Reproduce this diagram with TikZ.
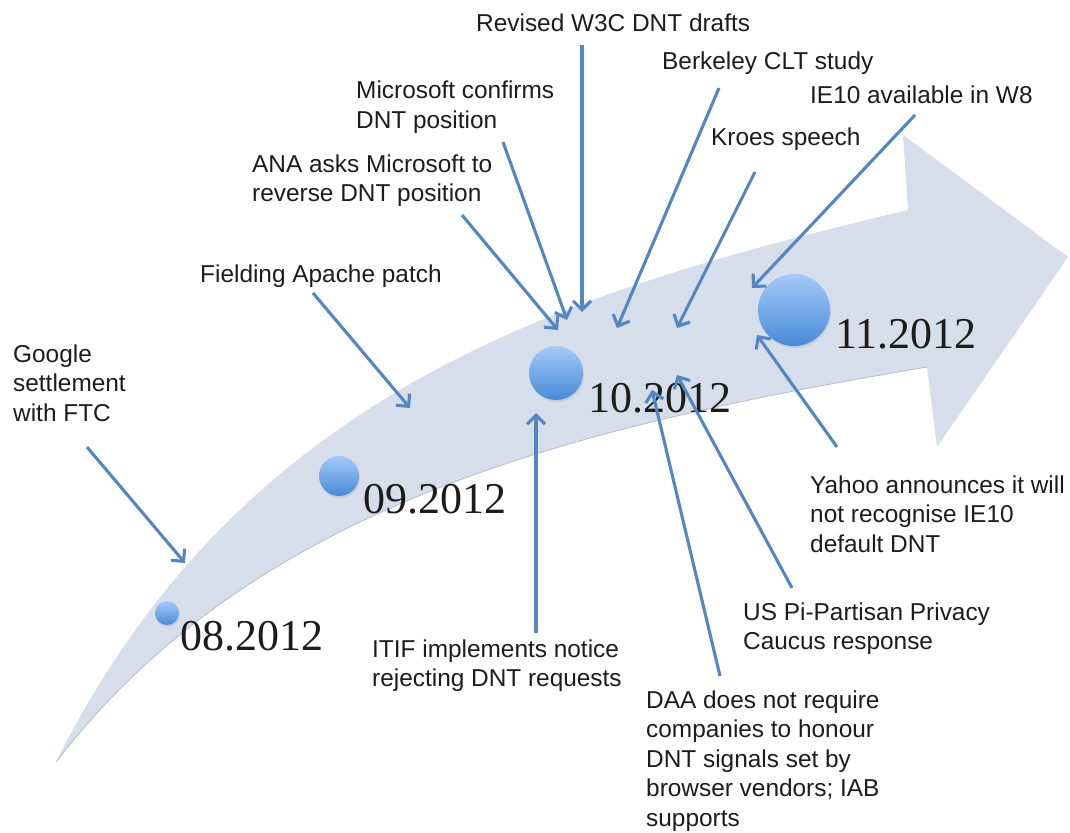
\documentclass[tikz,border=0pt]{standalone}
\usepackage{fontspec}
\setmainfont{Liberation Sans}
\newfontfamily\datefont{Liberation Serif}
\usetikzlibrary{arrows.meta,shadows}
\definecolor{bandc}{RGB}{214,222,235}
\definecolor{bandedge}{RGB}{182,188,200}
\definecolor{arrc}{RGB}{84,134,194}
\definecolor{dotlight}{RGB}{165,202,248}
\definecolor{dotdark}{RGB}{72,138,216}
\definecolor{txt}{RGB}{28,28,28}
\newcommand\mlleft[1]{\vtop{\halign{##\hfil\cr#1\crcr}}}
\tikzset{
  lbl/.style={font=\fontsize{24.4}{29.5}\selectfont, inner sep=0pt, anchor=base west, text=txt},
  datelbl/.style={font=\datefont\fontsize{44}{50}\selectfont, inner sep=0pt, anchor=base west, text=txt},
  dot/.style={circle, inner sep=0pt, top color=dotlight, bottom color=dotdark,
    drop shadow={opacity=0.18, shadow xshift=1pt, shadow yshift=-2pt}},
  conn/.style={draw=arrc, line width=3.1pt, -{Straight Barb[length=9pt,width=18pt]}},
}
\begin{document}
\begin{tikzpicture}[x=1pt,y=-1pt]
\useasboundingbox (0,0) rectangle (1070,832);
% band arrow
\fill[bandc] (56,762) .. controls (246,382) and (578,289) .. (908,210)
  -- (903,135) -- (1068,257) -- (937,447) -- (927,367)
  .. controls (577,426.5) and (256,502) .. (56,762) -- cycle;
\draw[bandedge, line width=0.8pt] (927,367) .. controls (577,426.5) and (256,502) .. (56,762);
% dots
\node[dot, minimum size=24pt] (d08) at (167,613) {};
\node[dot, minimum size=40pt] (d09) at (339,476) {};
\node[dot, minimum size=54pt] (d10) at (556,373) {};
\node[dot, minimum size=72pt] (d11) at (794,310) {};
% dates
\node[datelbl] (t08) at (180,650) {08.2012};
\node[datelbl] (t09) at (363,513) {09.2012};
\node[datelbl] (t10) at (588,412) {10.2012};
\node[datelbl] (t11) at (835,348) {11.2012};
% labels
\node[lbl] (google) at (13,362) {\mlleft{Google\cr settlement\cr with FTC}};
\node[lbl] (fielding) at (200,282) {Fielding Apache patch};
\node[lbl] (ana) at (252,172) {\mlleft{ANA asks Microsoft to\cr reverse DNT position}};
\node[lbl] (ms) at (356,99) {\mlleft{Microsoft confirms\cr DNT position}};
\node[lbl] (w3c) at (476,32) {Revised W3C DNT drafts};
\node[lbl] (bk) at (662,70) {Berkeley CLT study};
\node[lbl] (ie) at (810,103) {IE10 available in W8};
\node[lbl] (kr) at (711,145) {Kroes speech};
\node[lbl] (ya) at (810,493) {\mlleft{Yahoo announces it will\cr not recognise IE10\cr default DNT}};
\node[lbl] (us) at (743,620) {\mlleft{US Pi-Partisan Privacy\cr Caucus response}};
\node[lbl] (daa) at (646,708) {\mlleft{DAA does not require\cr companies to honour\cr DNT signals set by\cr browser vendors; IAB\cr supports}};
\node[lbl] (itif) at (372,657) {\mlleft{ITIF implements notice\cr rejecting DNT requests}};
% connector ends
\coordinate (gS) at (87,447);   \coordinate (gE) at (185,563);
\coordinate (fS) at (313,293);  \coordinate (fE) at (410,408);
\coordinate (aS) at (462,215);  \coordinate (aE) at (558,330);
\coordinate (mS) at (503,142);  \coordinate (mE) at (567,320);
\coordinate (wS) at (582,45);   \coordinate (wE) at (582,312);
\coordinate (bS) at (719,88);   \coordinate (bE) at (617,328);
\coordinate (kS) at (755,172);  \coordinate (kE) at (677,328);
\coordinate (iS) at (915,115);  \coordinate (iE) at (752,288);
\coordinate (yS) at (837,447);  \coordinate (yE) at (757,335);
\coordinate (uS) at (792,588);  \coordinate (uE) at (677,375);
\coordinate (dS) at (720,676);  \coordinate (dE) at (652,390);
\coordinate (tS) at (536,633);  \coordinate (tE) at (536,413);
% connectors
\draw[conn] (gS) -- (gE);
\draw[conn] (fS) -- (fE);
\draw[conn] (aS) -- (aE);
\draw[conn] (mS) -- (mE);
\draw[conn] (wS) -- (wE);
\draw[conn] (bS) -- (bE);
\draw[conn] (kS) -- (kE);
\draw[conn] (iS) -- (iE);
\draw[conn] (yS) -- (yE);
\draw[conn] (uS) -- (uE);
\draw[conn] (dS) -- (dE);
\draw[conn] (tS) -- (tE);
\end{tikzpicture}
\end{document}
